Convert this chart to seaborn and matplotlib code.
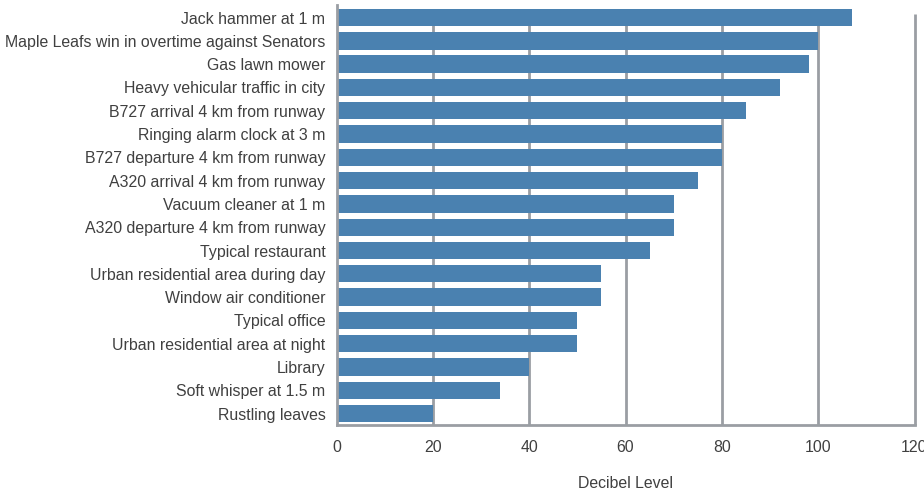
import matplotlib
matplotlib.use("Agg")
import matplotlib.pyplot as plt
import seaborn as sns
import pandas as pd

sources = [
    "Jack hammer at 1 m",
    "Maple Leafs win in overtime against Senators",
    "Gas lawn mower",
    "Heavy vehicular traffic in city",
    "B727 arrival 4 km from runway",
    "Ringing alarm clock at 3 m",
    "B727 departure 4 km from runway",
    "A320 arrival 4 km from runway",
    "Vacuum cleaner at 1 m",
    "A320 departure 4 km from runway",
    "Typical restaurant",
    "Urban residential area during day",
    "Window air conditioner",
    "Typical office",
    "Urban residential area at night",
    "Library",
    "Soft whisper at 1.5 m",
    "Rustling leaves",
]
decibels = [107, 100, 98, 92, 85, 80, 80, 75, 70, 70, 65, 55, 55, 50, 50, 40, 34, 20]
x_ticks = [0, 20, 40, 60, 80, 100, 120]

df = pd.DataFrame({"source": sources, "db": decibels})

sns.set_theme(style="white")
plt.rcParams["font.family"] = ["Liberation Sans", "DejaVu Sans"]

text_color = "#404040"
grid_color = "#9a9ea3"
bar_color = "#4a81b0"
font_size = 11.4

fig = plt.figure(figsize=(9.24, 4.95), dpi=100)
ax = fig.add_axes([336.5 / 924, 1 - 424.5 / 495, (914.5 - 336.5) / 924, (424.5 - 5) / 495])

sns.barplot(data=df, x="db", y="source", orient="h", color=bar_color,
            saturation=1, width=0.745, linewidth=0, edgecolor="none",
            ax=ax, zorder=3)

ax.set_xlim(0, 120)
ax.set_ylim(len(sources) - 0.53, -0.54)

# vertical guide lines behind the bars
ax.vlines(x_ticks[1:], -0.15, len(sources) - 0.53, colors=grid_color,
          linewidth=2.0, zorder=1, clip_on=False)

ax.set_xticks(x_ticks)
ax.set_xticklabels([str(t) for t in x_ticks])
ax.tick_params(axis="x", length=0, pad=11, labelsize=font_size, labelcolor=text_color)
ax.tick_params(axis="y", length=0, pad=8, labelsize=font_size, labelcolor=text_color)

for side in ["top", "right"]:
    ax.spines[side].set_visible(False)
for side in ["left", "bottom"]:
    ax.spines[side].set_visible(True)
    ax.spines[side].set_color(grid_color)
    ax.spines[side].set_linewidth(2.0)
ax.spines["left"].set_zorder(4)

ax.set_ylabel("")
ax.set_xlabel("Decibel Level", fontsize=font_size, color=text_color, labelpad=15)

fig.savefig("out.png", dpi=100)
